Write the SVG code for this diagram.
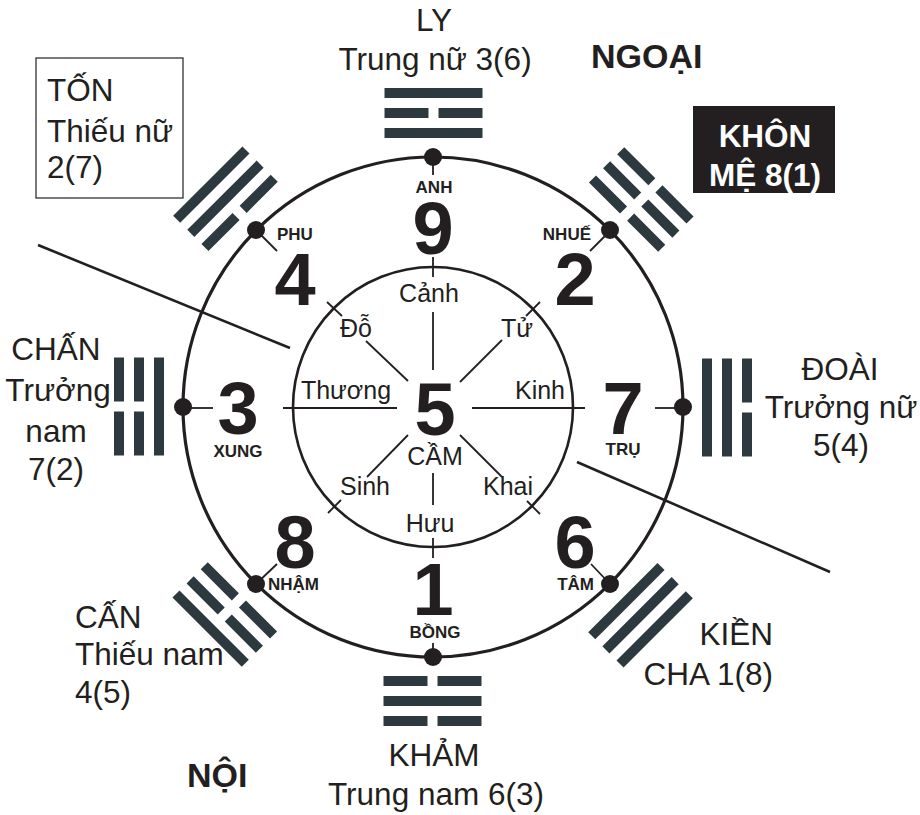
<svg xmlns="http://www.w3.org/2000/svg" xmlns:xlink="http://www.w3.org/1999/xlink" width="920" height="815" viewBox="0 0 920 815">
<style>
text{font-family:"Liberation Sans",Arial,sans-serif;fill:#231f20}
.lbl{font-size:31.5px}
.b{font-weight:bold}
.num{font-size:74px;font-weight:bold;text-anchor:middle}
.sm{font-size:17px;font-weight:bold}
.door{font-size:25px}
.mid{text-anchor:middle}
.end{text-anchor:end}
.ln{stroke:#231f20;fill:none}
.tg{fill:#2c3a40}
</style>
<defs>
<rect id="yang" x="384.5" y="0" width="98" height="10"/>
<path id="yin" d="M384.5 0h44v10h-44z M438.5 0h44v10h-44z"/>
</defs>
<rect width="920" height="815" fill="#fff"/>

<g id="connectors" class="ln">
<circle cx="433" cy="407" r="250" stroke-width="3.2"/>
<circle cx="433" cy="407" r="140" stroke-width="2.6"/>
<g stroke-width="1.8">
<line x1="433" y1="157" x2="433" y2="175"/>
<line x1="433" y1="257" x2="433" y2="277"/>
<line x1="433" y1="312" x2="433" y2="370"/>
<line x1="433" y1="473" x2="433" y2="505"/>
<line x1="433" y1="538" x2="433" y2="558"/>
<line x1="433" y1="643" x2="433" y2="657"/>
<line x1="183" y1="408" x2="213" y2="408"/>
<line x1="283" y1="408" x2="397" y2="408"/>
<line x1="472" y1="408" x2="585" y2="408"/>
<line x1="655" y1="408" x2="683" y2="408"/>
<line x1="257" y1="231" x2="277" y2="251"/>
<line x1="327" y1="302" x2="342" y2="316"/>
<line x1="366" y1="341" x2="408" y2="381"/>
<line x1="610" y1="231" x2="590" y2="251"/>
<line x1="540" y1="302" x2="526" y2="316"/>
<line x1="502" y1="340" x2="460" y2="382"/>
<line x1="257" y1="583" x2="277" y2="564"/>
<line x1="328" y1="513" x2="341" y2="500"/>
<line x1="367" y1="477" x2="408" y2="435"/>
<line x1="609" y1="583" x2="591" y2="564"/>
<line x1="540" y1="514" x2="527" y2="501"/>
<line x1="460" y1="435" x2="502" y2="477"/>
</g>
<line x1="38" y1="245" x2="290" y2="348" stroke-width="2.6"/>
<line x1="577" y1="462" x2="830" y2="572" stroke-width="2.6"/>
</g>

<g id="dots" fill="#231f20">
<circle cx="433" cy="157" r="9"/>
<circle cx="610" cy="230" r="9"/>
<circle cx="683" cy="407" r="9"/>
<circle cx="610" cy="584" r="9"/>
<circle cx="433" cy="657" r="9"/>
<circle cx="256" cy="584" r="9"/>
<circle cx="183" cy="407" r="9"/>
<circle cx="256" cy="230" r="9"/>
</g>

<g id="palace-9"><text class="sm mid" x="434" y="193">ANH</text><text class="num" x="433" y="254">9</text><text class="door mid" x="429" y="302">Cảnh</text></g>
<g id="palace-4"><text class="sm" x="277" y="240">PHU</text><text class="num" x="295" y="305">4</text><text class="door mid" x="356" y="337">Đỗ</text></g>
<g id="palace-2"><text class="sm end" x="591" y="240">NHUẾ</text><text class="num" x="575" y="305">2</text><text class="door mid" x="517" y="337">Tử</text></g>
<g id="palace-3"><text class="sm mid" x="238" y="457">XUNG</text><text class="num" x="238" y="434">3</text><text class="door mid" x="346" y="399">Thương</text></g>
<g id="palace-5"><text class="num" x="435" y="435">5</text><text class="door mid" x="435" y="465">CẦM</text></g>
<g id="palace-7"><text class="sm mid" x="623" y="455">TRỤ</text><text class="num" x="623" y="434">7</text><text class="door mid" x="540" y="399">Kinh</text></g>
<g id="palace-8"><text class="sm" x="268" y="590">NHẬM</text><text class="num" x="295" y="568">8</text><text class="door mid" x="365" y="495">Sinh</text></g>
<g id="palace-1"><text class="num" x="433" y="615">1</text><text class="sm mid" x="435" y="638">BỒNG</text><text class="door mid" x="430" y="532">Hưu</text></g>
<g id="palace-6"><text class="sm end" x="594" y="590">TÂM</text><text class="num" x="575" y="568">6</text><text class="door mid" x="508" y="495">Khai</text></g>

<g id="trigram-ly" class="tg"><use xlink:href="#yang" y="88"/><use xlink:href="#yin" y="108"/><use xlink:href="#yang" y="128"/>
</g>
<g id="label-ly"><text class="lbl mid" x="434" y="31">LY</text><text class="lbl mid" x="435" y="70">Trung nữ 3(6)</text></g>

<g id="trigram-khon" class="tg" transform="rotate(45 433 407)"><use xlink:href="#yin" y="88"/><use xlink:href="#yin" y="108"/><use xlink:href="#yin" y="128"/></g>
<g id="label-khon"><rect x="693" y="106" width="142" height="87" fill="#231f20"/><text class="lbl b mid" x="765" y="147" style="fill:#fff">KHÔN</text><text class="lbl b mid" x="765" y="186" style="fill:#fff">MỆ 8(1)</text></g>

<g id="trigram-doai" class="tg" transform="rotate(90 433 407)"><use xlink:href="#yin" y="88"/><use xlink:href="#yang" y="108"/><use xlink:href="#yang" y="128"/></g>
<g id="label-doai"><text class="lbl mid" x="840" y="380">ĐOÀI</text><text class="lbl mid" x="841" y="418">Trưởng nữ</text><text class="lbl mid" x="841" y="456">5(4)</text></g>

<g id="trigram-kien" class="tg" transform="rotate(135 433 407)"><use xlink:href="#yang" y="88"/><use xlink:href="#yang" y="108"/><use xlink:href="#yang" y="128"/></g>
<g id="label-kien"><text class="lbl end" x="773" y="645">KIỀN</text><text class="lbl end" x="773" y="685">CHA 1(8)</text></g>

<g id="trigram-kham" class="tg" transform="rotate(180 433 407)"><use xlink:href="#yin" y="88"/><use xlink:href="#yang" y="108"/><use xlink:href="#yin" y="128"/></g>
<g id="label-kham"><text class="lbl mid" x="434" y="766">KHẢM</text><text class="lbl mid" x="436" y="805">Trung nam 6(3)</text></g>

<g id="trigram-can" class="tg" transform="rotate(-135 433 407)"><use xlink:href="#yang" y="88"/><use xlink:href="#yin" y="108"/><use xlink:href="#yin" y="128"/></g>
<g id="label-can"><text class="lbl" x="75" y="628">CẤN</text><text class="lbl" x="75" y="665">Thiếu nam</text><text class="lbl" x="75" y="703">4(5)</text></g>

<g id="trigram-chan" class="tg" transform="rotate(-90 433 407)"><use xlink:href="#yin" y="88"/><use xlink:href="#yin" y="108"/><use xlink:href="#yang" y="128"/></g>
<g id="label-chan"><text class="lbl mid" x="56" y="360">CHẤN</text><text class="lbl mid" x="58" y="401">Trưởng</text><text class="lbl mid" x="56" y="442">nam</text><text class="lbl mid" x="56" y="480">7(2)</text></g>

<g id="trigram-ton" class="tg" transform="rotate(-45 433 407)"><use xlink:href="#yang" y="88"/><use xlink:href="#yang" y="108"/><use xlink:href="#yin" y="128"/></g>
<g id="label-ton"><rect x="36" y="58" width="147" height="140" fill="none" stroke="#231f20" stroke-width="1.2"/><text class="lbl" x="47" y="101">TỐN</text><text class="lbl" x="47" y="142">Thiếu nữ</text><text class="lbl" x="47" y="178">2(7)</text></g>

<g id="label-ngoai"><text class="b" x="591" y="68" style="font-size:34px">NGOẠI</text></g>
<g id="label-noi"><text class="b" x="187" y="787" style="font-size:34px">NỘI</text></g>
</svg>
